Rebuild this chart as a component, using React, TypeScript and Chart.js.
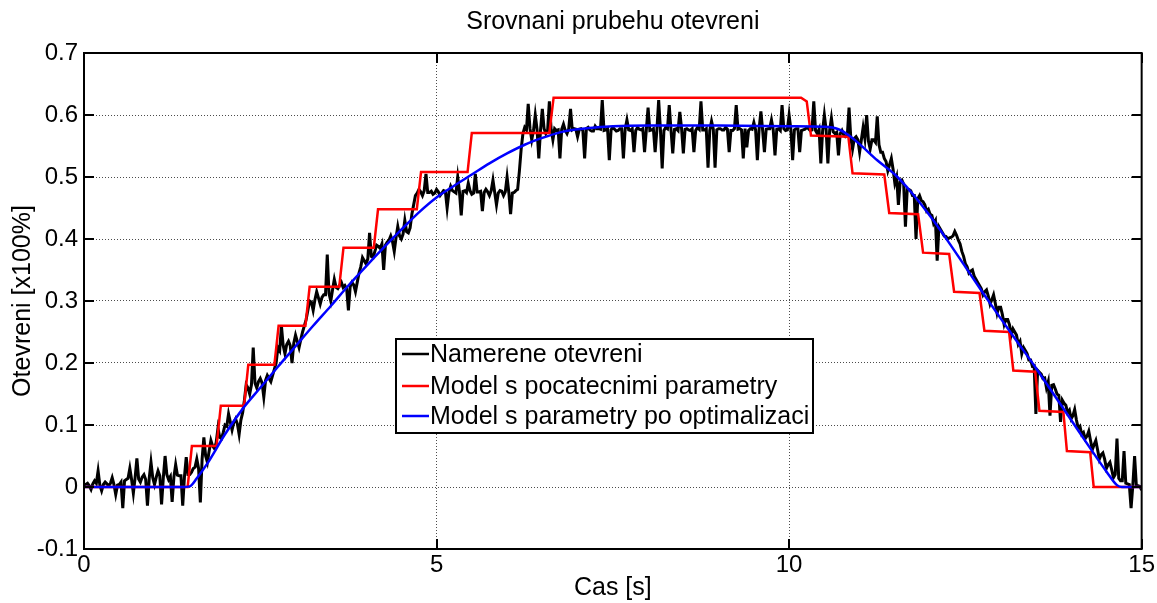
import { useEffect, useRef } from 'react';
import { Chart, registerables } from 'chart.js';

Chart.register(...registerables);

const TITLE = 'Srovnani prubehu otevreni';
const X_TITLE = 'Cas [s]';
const Y_TITLE = 'Otevreni [x100%]';
const SERIES_NAMES = [
  'Namerene otevreni',
  'Model s pocatecnimi parametry',
  'Model s parametry po optimalizaci',
];
const SERIES_COLORS = ['#000000', '#ff0000', '#0000ff'];

const X_TICKS = [0, 5, 10, 15];
const X_TICK_LABELS = ['0', '5', '10', '15'];
const Y_TICKS = [-0.1, 0, 0.1, 0.2, 0.3, 0.4, 0.5, 0.6, 0.7];
const Y_TICK_LABELS = ['-0.1', '0', '0.1', '0.2', '0.3', '0.4', '0.5', '0.6', '0.7'];

// measured opening, sampled every 0.05 s from 0 to 15 s
const SAMPLE_STEP = 0.05;
const measured = [
  0.003, 0.006, -0.004, 0.010, 0.026, -0.006, 0.008, 0.002, 0.015, -0.012, 0.004, -0.034, 0.012, 0.030, -0.010, 0.046, 0.008, 0.020, -0.030, 0.040,
  0.004, 0.026, -0.028, 0.050, 0.012, -0.024, 0.036, 0.018, -0.030, 0.048, 0.020, 0.030, 0.045, -0.025, 0.080, 0.040, 0.075, 0.062, 0.095, 0.078,
  0.100, 0.118, 0.092, 0.110, 0.085, 0.120, 0.165, 0.150, 0.225, 0.160, 0.175, 0.145, 0.180, 0.170, 0.190, 0.225, 0.260, 0.215, 0.235, 0.200,
  0.245, 0.225, 0.250, 0.270, 0.300, 0.285, 0.315, 0.295, 0.310, 0.375, 0.300, 0.335, 0.320, 0.330, 0.325, 0.285, 0.330, 0.315, 0.345, 0.370,
  0.360, 0.410, 0.370, 0.390, 0.385, 0.350, 0.395, 0.405, 0.380, 0.420, 0.400, 0.430, 0.410, 0.440, 0.470, 0.480, 0.470, 0.505, 0.475, 0.472,
  0.480, 0.470, 0.478, 0.450, 0.485, 0.476, 0.500, 0.438, 0.478, 0.490, 0.472, 0.505, 0.476, 0.445, 0.480, 0.470, 0.495, 0.455, 0.478, 0.470,
  0.500, 0.440, 0.475, 0.480, 0.545, 0.580, 0.618, 0.560, 0.600, 0.530, 0.610, 0.570, 0.622, 0.560, 0.575, 0.530, 0.585, 0.570, 0.610, 0.578,
  0.565, 0.578, 0.530, 0.580, 0.574, 0.582, 0.578, 0.624, 0.576, 0.527, 0.580, 0.574, 0.578, 0.530, 0.592, 0.575, 0.540, 0.580, 0.576, 0.540,
  0.612, 0.576, 0.540, 0.624, 0.514, 0.580, 0.616, 0.538, 0.578, 0.605, 0.538, 0.578, 0.575, 0.540, 0.580, 0.622, 0.576, 0.515, 0.590, 0.515,
  0.578, 0.576, 0.580, 0.540, 0.575, 0.616, 0.578, 0.530, 0.548, 0.578, 0.588, 0.527, 0.606, 0.540, 0.578, 0.592, 0.535, 0.578, 0.616, 0.575,
  0.600, 0.527, 0.578, 0.540, 0.576, 0.580, 0.575, 0.622, 0.570, 0.522, 0.600, 0.522, 0.595, 0.570, 0.535, 0.575, 0.565, 0.612, 0.545, 0.565,
  0.540, 0.580, 0.600, 0.545, 0.560, 0.598, 0.540, 0.530, 0.510, 0.530, 0.490, 0.455, 0.495, 0.420, 0.480, 0.470, 0.400, 0.470, 0.460, 0.445,
  0.440, 0.425, 0.365, 0.415, 0.405, 0.400, 0.403, 0.412, 0.398, 0.380, 0.360, 0.345, 0.350, 0.335, 0.325, 0.310, 0.318, 0.295, 0.310, 0.280,
  0.290, 0.262, 0.270, 0.245, 0.250, 0.230, 0.215, 0.220, 0.205, 0.195, 0.118, 0.185, 0.175, 0.160, 0.115, 0.165, 0.150, 0.105, 0.135, 0.120,
  0.110, 0.125, 0.095, 0.085, 0.078, 0.090, 0.060, 0.075, 0.045, 0.055, 0.030, 0.040, 0.015, 0.078, 0.010, 0.058, 0.005, -0.034, 0.050, 0.002,
  -0.005,
];
// measured opening at the half-steps (0.025, 0.075, ... 14.975 s)
const measuredMid = [
  0.004, 0.002, 0.005, 0.006, 0.003, 0.004, 0.005, 0.006, 0.004, 0.003, 0.008, 0.010, 0.014, 0.012, 0.015, 0.013, 0.016, 0.012, 0.014, 0.015,
  0.016, 0.018, 0.015, 0.020, 0.017, 0.016, 0.019, 0.018, 0.017, 0.020, 0.024, 0.032, 0.030, 0.045, 0.050, 0.058, 0.066, 0.072, 0.080, 0.088,
  0.098, 0.105, 0.104, 0.102, 0.108, 0.140, 0.160, 0.165, 0.168, 0.170, 0.168, 0.172, 0.175, 0.180, 0.200, 0.220, 0.228, 0.230, 0.228, 0.232,
  0.235, 0.238, 0.260, 0.285, 0.298, 0.302, 0.305, 0.306, 0.310, 0.312, 0.318, 0.322, 0.325, 0.322, 0.320, 0.323, 0.326, 0.330, 0.355, 0.365,
  0.368, 0.372, 0.380, 0.388, 0.392, 0.390, 0.398, 0.396, 0.402, 0.405, 0.408, 0.412, 0.418, 0.455, 0.474, 0.476, 0.478, 0.475, 0.477, 0.474,
  0.476, 0.474, 0.477, 0.475, 0.478, 0.474, 0.476, 0.477, 0.475, 0.478, 0.474, 0.476, 0.477, 0.475, 0.476, 0.478, 0.475, 0.474, 0.477, 0.476,
  0.475, 0.474, 0.478, 0.510, 0.570, 0.576, 0.578, 0.575, 0.577, 0.576, 0.578, 0.575, 0.577, 0.578, 0.576, 0.577, 0.575, 0.578, 0.576, 0.577,
  0.577, 0.575, 0.578, 0.576, 0.574, 0.578, 0.577, 0.575, 0.578, 0.576, 0.577, 0.575, 0.578, 0.577, 0.576, 0.578, 0.575, 0.577, 0.578, 0.576,
  0.575, 0.578, 0.576, 0.577, 0.575, 0.578, 0.576, 0.577, 0.575, 0.578, 0.577, 0.576, 0.578, 0.575, 0.577, 0.576, 0.578, 0.575, 0.577, 0.576,
  0.578, 0.576, 0.577, 0.575, 0.578, 0.577, 0.576, 0.578, 0.575, 0.577, 0.576, 0.578, 0.575, 0.577, 0.578, 0.576, 0.577, 0.575, 0.578, 0.576,
  0.577, 0.576, 0.578, 0.575, 0.577, 0.578, 0.576, 0.575, 0.577, 0.574, 0.576, 0.575, 0.573, 0.572, 0.570, 0.568, 0.566, 0.563, 0.562, 0.560,
  0.560, 0.562, 0.558, 0.560, 0.556, 0.552, 0.540, 0.525, 0.520, 0.512, 0.500, 0.492, 0.488, 0.480, 0.478, 0.470, 0.465, 0.462, 0.455, 0.448,
  0.438, 0.430, 0.420, 0.410, 0.404, 0.402, 0.405, 0.406, 0.392, 0.372, 0.355, 0.348, 0.340, 0.330, 0.320, 0.315, 0.308, 0.302, 0.296, 0.290,
  0.278, 0.270, 0.262, 0.255, 0.245, 0.235, 0.225, 0.215, 0.205, 0.196, 0.188, 0.182, 0.176, 0.170, 0.164, 0.158, 0.148, 0.140, 0.132, 0.124,
  0.115, 0.108, 0.098, 0.088, 0.082, 0.075, 0.068, 0.060, 0.052, 0.045, 0.036, 0.028, 0.020, 0.014, 0.010, 0.006, 0.004, 0.003, 0.002, 0.001,
];

// model with initial parameters (stepped response)
const initialT = [0, 1.47, 1.53, 1.88, 1.94, 2.27, 2.33, 2.70, 2.76, 3.14, 3.20, 3.62, 3.68, 4.11, 4.17, 4.72, 4.78, 5.44, 5.50, 6.60, 6.66, 10.17, 10.25, 10.31, 10.84, 10.90, 11.35, 11.42, 11.83, 11.90, 12.27, 12.34, 12.70, 12.77, 13.12, 13.18, 13.49, 13.55, 13.89, 13.94, 14.27, 14.32, 15.00];
const initialV = [0, 0, 0.066, 0.066, 0.131, 0.131, 0.197, 0.197, 0.260, 0.260, 0.323, 0.323, 0.386, 0.386, 0.448, 0.448, 0.508, 0.508, 0.571, 0.571, 0.628, 0.628, 0.622, 0.567, 0.565, 0.506, 0.504, 0.442, 0.440, 0.378, 0.376, 0.315, 0.313, 0.252, 0.250, 0.188, 0.186, 0.123, 0.121, 0.058, 0.056, 0.000, 0.000];

// model with optimized parameters
const optimizedT = [0, 1.40, 1.50, 1.60, 1.75, 2.00, 2.25, 2.50, 2.75, 3.00, 3.25, 3.50, 3.75, 4.00, 4.25, 4.50, 4.75, 5.00, 5.25, 5.50, 5.75, 6.00, 6.25, 6.50, 6.75, 7.00, 7.25, 7.50, 8.00, 9.00, 10.00, 10.50, 10.70, 10.85, 11.00, 11.25, 11.50, 11.75, 12.00, 12.25, 12.50, 12.75, 13.00, 13.25, 13.50, 13.75, 14.00, 14.25, 14.50, 14.65, 14.72, 15.00];
const optimizedV = [0, 0, 0.001, 0.014, 0.038, 0.085, 0.126, 0.160, 0.194, 0.227, 0.260, 0.292, 0.325, 0.356, 0.386, 0.415, 0.443, 0.467, 0.486, 0.504, 0.522, 0.538, 0.552, 0.563, 0.572, 0.577, 0.580, 0.582, 0.583, 0.583, 0.582, 0.581, 0.577, 0.567, 0.553, 0.527, 0.504, 0.473, 0.437, 0.397, 0.355, 0.313, 0.272, 0.232, 0.192, 0.150, 0.108, 0.066, 0.025, 0.003, 0, 0];

const FONT = "'Liberation Sans', Arial, Helvetica, sans-serif";

const framePlugin = {
  id: 'matlabFrame',
  afterDraw(chart: any) {
    const { ctx, chartArea: a, scales } = chart;
    const xs = scales.x;
    const ys = scales.y;
    ctx.save();
    ctx.setLineDash([]);
    ctx.strokeStyle = '#000';
    ctx.lineWidth = 2;
    ctx.strokeRect(a.left, a.top, a.right - a.left, a.bottom - a.top);
    const L = 10;
    ctx.beginPath();
    X_TICKS.forEach((v) => {
      const px = Math.round(xs.getPixelForValue(v));
      ctx.moveTo(px, a.bottom);
      ctx.lineTo(px, a.bottom - L);
      ctx.moveTo(px, a.top);
      ctx.lineTo(px, a.top + L);
    });
    Y_TICKS.forEach((v) => {
      const py = Math.round(ys.getPixelForValue(v));
      ctx.moveTo(a.left, py);
      ctx.lineTo(a.left + L, py);
      ctx.moveTo(a.right, py);
      ctx.lineTo(a.right - L, py);
    });
    ctx.stroke();

    // legend box
    const lx = a.left + 312;
    const ly = a.top + 286;
    const lw = 417;
    const lh = 94;
    ctx.fillStyle = '#fff';
    ctx.fillRect(lx, ly, lw, lh);
    ctx.lineWidth = 2;
    ctx.strokeStyle = '#000';
    ctx.strokeRect(lx, ly, lw, lh);
    const rows = [15, 47, 77];
    ctx.font = `25px ${FONT}`;
    ctx.textBaseline = 'middle';
    ctx.textAlign = 'left';
    chart.data.datasets.forEach((ds: any, i: number) => {
      const y = ly + rows[i];
      ctx.strokeStyle = ds.borderColor;
      ctx.lineWidth = 2.5;
      ctx.beginPath();
      ctx.moveTo(lx + 6, y);
      ctx.lineTo(lx + 33, y);
      ctx.stroke();
      ctx.fillStyle = '#000';
      ctx.fillText(ds.label, lx + 34, y + 1);
    });
    ctx.restore();
  },
};

export default function App() {
  const ref = useRef<HTMLCanvasElement | null>(null);

  useEffect(() => {
    if (!ref.current) return;
    const measuredPts: { x: number; y: number }[] = [];
    measured.forEach((v, i) => {
      measuredPts.push({ x: i * SAMPLE_STEP, y: v });
      if (i < measuredMid.length) {
        measuredPts.push({ x: i * SAMPLE_STEP + SAMPLE_STEP / 2, y: measuredMid[i] });
      }
    });
    const initialPts = initialT.map((t, i) => ({ x: t, y: initialV[i] }));
    const optimizedPts = optimizedT.map((t, i) => ({ x: t, y: optimizedV[i] }));

    const chart = new Chart(ref.current, {
      type: 'line',
      data: {
        datasets: [
          {
            label: SERIES_NAMES[0],
            data: measuredPts,
            borderColor: SERIES_COLORS[0],
            borderWidth: 3,
            pointRadius: 0,
            tension: 0,
            order: 3,
          },
          {
            label: SERIES_NAMES[1],
            data: initialPts,
            borderColor: SERIES_COLORS[1],
            borderWidth: 2.5,
            pointRadius: 0,
            tension: 0,
            order: 2,
          },
          {
            label: SERIES_NAMES[2],
            data: optimizedPts,
            borderColor: SERIES_COLORS[2],
            borderWidth: 2.5,
            pointRadius: 0,
            cubicInterpolationMode: 'monotone',
            order: 1,
          },
        ],
      },
      options: {
        responsive: false,
        animation: false,
        devicePixelRatio: 1,
        layout: { padding: { left: 0, right: 15, top: 0, bottom: 0 } },
        plugins: {
          legend: { display: false },
          tooltip: { enabled: false },
          title: {
            display: true,
            text: TITLE,
            fullSize: false,
            color: '#000',
            font: { family: FONT, size: 25, weight: 'normal' },
            padding: { top: 7, bottom: 16 },
          },
        },
        scales: {
          x: {
            type: 'linear',
            min: 0,
            max: 15,
            afterBuildTicks: (s: any) => {
              s.ticks = X_TICKS.map((v) => ({ value: v }));
            },
            afterFit: (s: any) => {
              s.height = 54;
            },
            ticks: {
              color: '#000',
              font: { family: FONT, size: 24 },
              padding: 2,
              maxRotation: 0,
              callback: (_v: any, i: number) => X_TICK_LABELS[i],
            },
            grid: { drawTicks: false, color: 'rgba(0,0,0,0.7)', lineWidth: 1 },
            border: { display: false, dash: [1, 2] },
            title: {
              display: true,
              text: X_TITLE,
              color: '#000',
              font: { family: FONT, size: 25 },
              padding: { top: 0, bottom: 0 },
            },
          },
          y: {
            type: 'linear',
            min: -0.1,
            max: 0.7,
            afterBuildTicks: (s: any) => {
              s.ticks = Y_TICKS.map((v) => ({ value: v }));
            },
            afterFit: (s: any) => {
              s.width = 84;
            },
            ticks: {
              color: '#000',
              font: { family: FONT, size: 24 },
              padding: 6,
              callback: (_v: any, i: number) => Y_TICK_LABELS[i],
            },
            grid: { drawTicks: false, color: 'rgba(0,0,0,0.7)', lineWidth: 1 },
            border: { display: false, dash: [1, 2] },
            title: {
              display: true,
              text: Y_TITLE,
              color: '#000',
              font: { family: FONT, size: 25 },
              padding: { top: 8, bottom: 0 },
            },
          },
        },
      },
      plugins: [framePlugin],
    } as any);

    return () => chart.destroy();
  }, []);

  return (
    <div style={{ position: 'fixed', left: 0, top: 0, width: 1157, height: 603, background: '#fff' }}>
      <canvas ref={ref} width={1157} height={603} style={{ display: 'block' }} />
    </div>
  );
}
